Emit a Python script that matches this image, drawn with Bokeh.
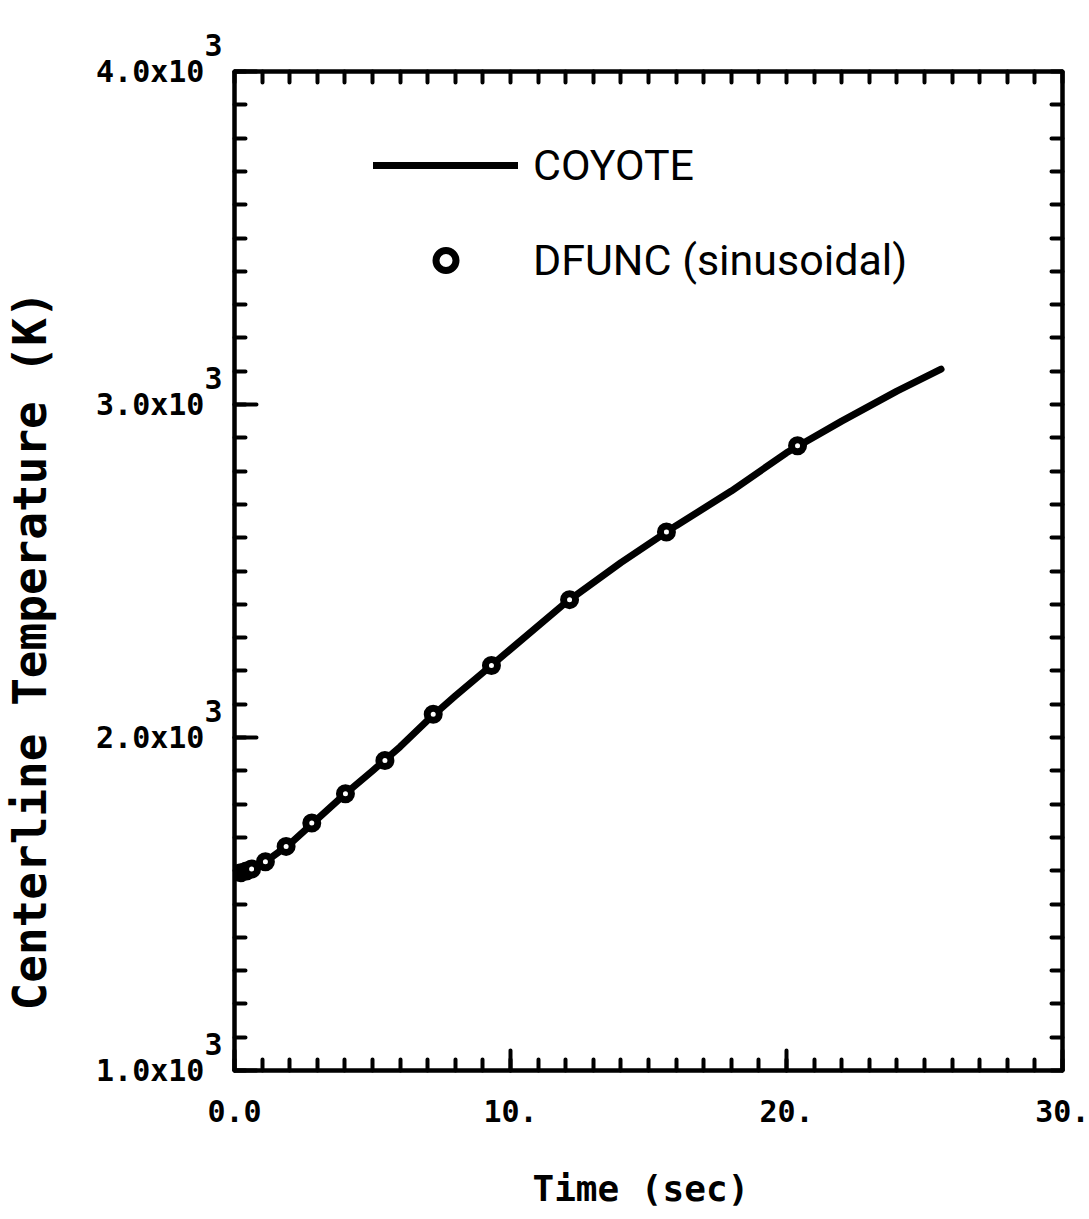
from bokeh.embed import file_html
from bokeh.models import (FixedTicker, Legend, LegendItem, LinearAxis, Range1d,
                          SingleIntervalTicker, Title)
from bokeh.plotting import figure
from bokeh.resources import INLINE

# COYOTE centreline temperature history (time in s, temperature in K)
coyote_time = [0.0, 0.5, 1.0, 2.0, 3.0, 4.0, 5.0, 6.0, 7.0, 8.0, 9.0, 10.0,
               12.0, 14.0, 16.0, 18.0, 20.0, 22.0, 24.0, 25.6]
coyote_temp = [1590, 1601, 1620, 1680, 1755, 1830, 1900, 1972, 2052, 2125,
               2195, 2265, 2405, 2525, 2636, 2740, 2855, 2950, 3040, 3106]

# DFUNC (sinusoidal) solution points
dfunc_time = [0.22, 0.43, 0.62, 1.12, 1.87, 2.80, 4.02, 5.45, 7.20, 9.31,
              12.14, 15.65, 20.40]
dfunc_temp = [1594, 1599, 1605, 1627, 1673, 1743, 1831, 1931, 2070, 2216,
              2414, 2617, 2876]

# axis tick values and their printed labels
x_ticks = [0, 10, 20, 30]
x_tick_labels = ["0.0", "10.", "20.", "30."]
y_ticks = [1000, 2000, 3000, 4000]
y_tick_labels = ["1.0x10", "2.0x10", "3.0x10", "4.0x10"]
y_tick_power = "3"

X_MIN, X_MAX, Y_MIN, Y_MAX = 0, 30, 1000, 4000
MONO = "DejaVu Sans Mono"
SANS = "Roboto"
NBSP = "\u00a0"

p = figure(width=1089, height=1219, output_backend="svg", toolbar_location=None,
           x_range=Range1d(X_MIN, X_MAX), y_range=Range1d(Y_MIN, Y_MAX),
           x_axis_type=None, y_axis_type=None,
           min_border_left=230, min_border_right=27,
           min_border_top=71, min_border_bottom=149)
p.xgrid.visible = False
p.ygrid.visible = False
p.background_fill_color = "white"
p.border_fill_color = "white"
p.outline_line_color = "black"
p.outline_line_width = 4


def style_ticks(ax, major_len, minor_len=11):
    ax.axis_line_color = "black"
    ax.axis_line_width = 4
    ax.major_tick_line_width = 4
    ax.minor_tick_line_width = 4
    ax.major_tick_line_cap = "round"
    ax.minor_tick_line_cap = "round"
    ax.major_tick_in = major_len
    ax.major_tick_out = 0
    ax.minor_tick_in = minor_len
    ax.minor_tick_out = 0


# bottom axis: ticks and labels (a blank second line leaves room above the title)
xb = LinearAxis(ticker=SingleIntervalTicker(interval=10, num_minor_ticks=10))
style_ticks(xb, 20)
xb.major_label_overrides = {v: t + "\n" + NBSP for v, t in zip(x_ticks, x_tick_labels)}
xb.major_label_standoff = 23
xb.major_label_text_font = MONO
xb.major_label_text_font_style = "bold"
xb.major_label_text_font_size = "30px"
xb.major_label_text_line_height = 0.95
xb.major_label_text_color = "black"
p.add_layout(xb, "below")
p.add_layout(Title(text="Time (sec)", align="left", offset=298, standoff=2,
                   text_font=MONO, text_font_style="bold", text_font_size="36px",
                   text_color="black"), "below")

# left axis: mantissa with the exponent raised on a line above it
ya = LinearAxis(ticker=SingleIntervalTicker(interval=1000, num_minor_ticks=10))
style_ticks(ya, 22)
ya.major_label_overrides = {
    v: NBSP * len(t) + y_tick_power + "\n" + NBSP * 2 + t + NBSP + "\n" + NBSP
    for v, t in zip(y_ticks, y_tick_labels)
}
ya.major_label_standoff = 12
ya.major_label_text_font = MONO
ya.major_label_text_font_style = "bold"
ya.major_label_text_font_size = "30px"
ya.major_label_text_line_height = 0.75
ya.major_label_text_color = "black"
p.add_layout(ya, "left")
p.add_layout(Title(text="Centerline Temperature (K)", align="left", offset=60,
                   standoff=0, text_font=MONO, text_font_style="bold",
                   text_font_size="46px", text_color="black"), "left")

# top and right edges carry inward ticks only
xt = LinearAxis(ticker=FixedTicker(ticks=[], minor_ticks=list(range(X_MIN, X_MAX + 1))))
style_ticks(xt, 11)
p.add_layout(xt, "above")
yr = LinearAxis(ticker=FixedTicker(ticks=[], minor_ticks=list(range(Y_MIN, Y_MAX + 1, 100))))
style_ticks(yr, 11)
p.add_layout(yr, "right")

coyote = p.line(coyote_time, coyote_temp, line_color="black", line_width=7,
                line_join="round", line_cap="round")
dfunc = p.scatter(dfunc_time, dfunc_temp, marker="circle", size=12,
                  line_width=7, line_color="black", fill_color="white")

legend = Legend(items=[LegendItem(label="COYOTE", renderers=[coyote]),
                       LegendItem(label="DFUNC (sinusoidal)", renderers=[dfunc])],
                location=(139, 785), orientation="vertical",
                glyph_width=145, glyph_height=50, label_height=50,
                label_standoff=15, spacing=45, padding=0, margin=0,
                border_line_alpha=0, background_fill_alpha=0,
                label_text_font=SANS, label_text_font_size="43px",
                label_text_color="black")
p.add_layout(legend)

open("out.html", "w").write(file_html(p, INLINE))
